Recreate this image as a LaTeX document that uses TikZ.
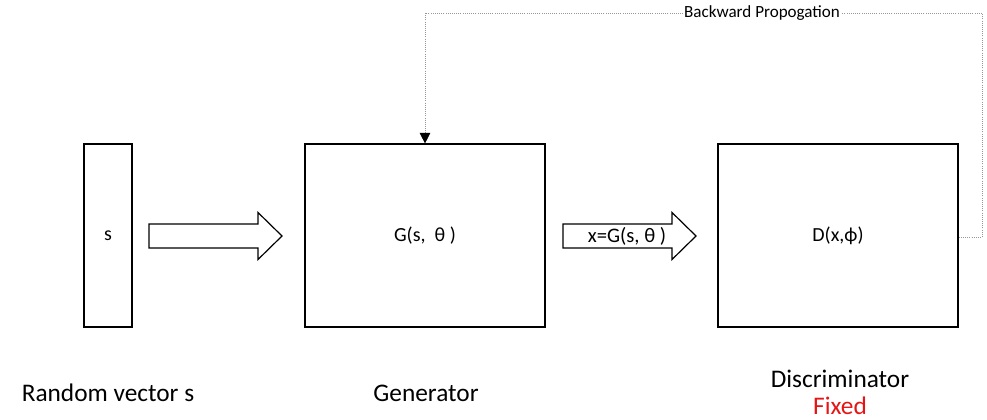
\documentclass[tikz,border=0pt]{standalone}
\usepackage{fontspec}
\setmainfont{Carlito}
\usepackage{xcolor}
\usetikzlibrary{positioning,arrows.meta,calc}
\definecolor{fixedred}{RGB}{230,20,20}
\definecolor{backgray}{RGB}{150,150,150}
\tikzset{
  netbox/.style={draw,line width=1.1pt,inner sep=0pt,font=\fontsize{15}{17}\selectfont},
  caption/.style={font=\fontsize{19}{22}\selectfont,inner sep=0pt,anchor=base},
  blockarrow/.style={draw,line width=0.9pt,fill=white,line join=miter},
  backprop/.style={draw=backgray,densely dotted,line width=0.6pt},
}
% block arrow: tail x, tip x, centre y
\newcommand{\blockarr}[3]{%
  \draw[blockarrow] (#1,#3-12) -- (#2-24,#3-12) -- (#2-24,#3-23.5) -- (#2,#3)
    -- (#2-24,#3+23.5) -- (#2-24,#3+12) -- (#1,#3+12) -- cycle;}

\begin{document}
\begin{tikzpicture}[x=0.75pt,y=-0.75pt]
  \useasboundingbox (0,0) rectangle (987,420);
  % boxes
  \node[netbox,minimum width=36pt,minimum height=137pt] (svec) at (108,235.5) {s};
  \node[netbox,minimum width=180pt,minimum height=137pt] (gen) at (425,235.5) {G(s,\ \ θ )};
  \node[netbox,minimum width=180pt,minimum height=137pt] (disc) at (838,235.5) {D(x,ϕ)};
  % block arrows
  \blockarr{149}{282}{236}
  \blockarr{563}{696}{236}
  \node[font=\fontsize{15.5}{17}\selectfont,inner sep=0pt] (xlab) at (627,236) {x=G(s, θ )};
  % feedback
  \coordinate (bpR) at (982,13);
  \coordinate (bpL) at (gen.north |- bpR);
  \draw[backprop] (disc.east |- 0,237) -| (bpR) -- (bpL)
    node[pos=0.395,fill=white,inner sep=1pt,text=black,font=\fontsize{12.8}{14}\selectfont] (bplab) {Backward Propogation};
  \draw[backprop,-{Triangle[length=8pt,width=8pt,fill=black,color=black]}] (bpL) -- (gen.north);
  % captions
  \node[caption] (cs) at (108,401) {Random vector s};
  \node[caption] (cg) at (426,401) {Generator};
  \node[caption] (cd) at (840,387) {Discriminator};
  \node[caption,text=fixedred] (cf) at (840,414) {Fixed};
\end{tikzpicture}
\end{document}
